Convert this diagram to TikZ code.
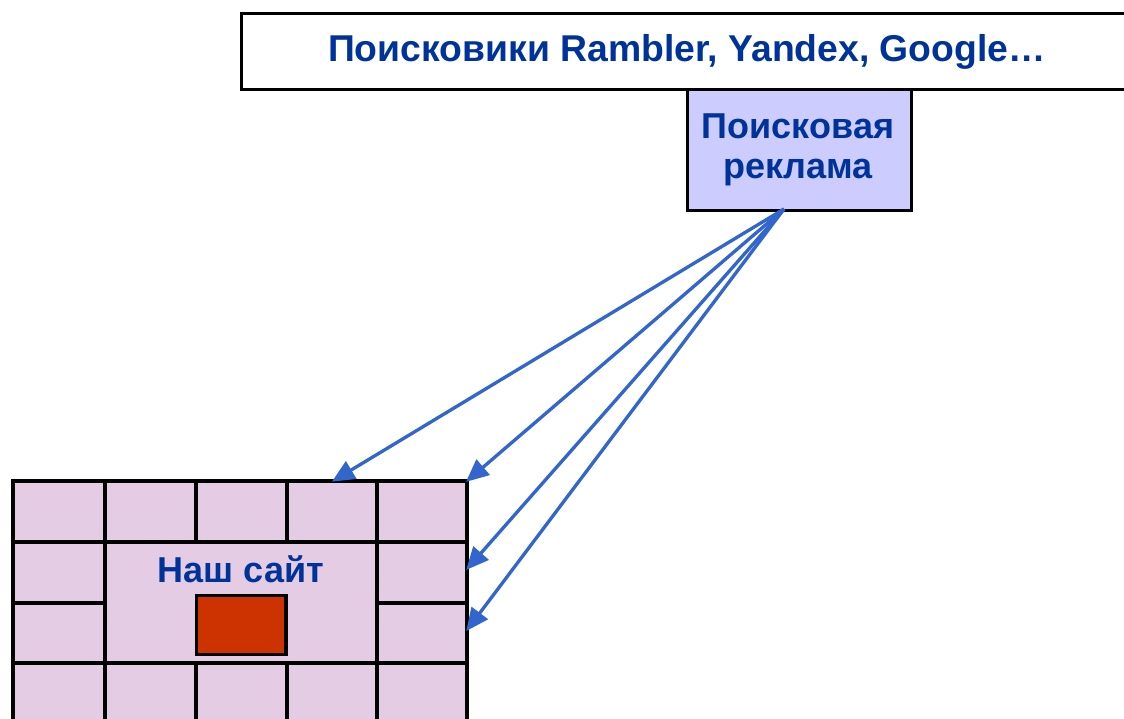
\documentclass[tikz,border=0pt]{standalone}
\usepackage{fontspec}
\setmainfont{Liberation Sans}
\usetikzlibrary{arrows.meta}
\definecolor{txtblue}{HTML}{003399}
\definecolor{arrblue}{HTML}{3366CC}
\definecolor{adfill}{HTML}{CCCCFF}
\definecolor{lilac}{HTML}{E5CCE5}
\definecolor{redbox}{HTML}{CC3300}
\tikzset{
  box/.style={draw=black, line width=2.5pt, inner sep=0pt},
  label/.style={text=txtblue, font=\bfseries\fontsize{28}{32}\selectfont, align=center},
  gridline/.style={draw=black, line width=2.4pt},
  adarrow/.style={draw=arrblue, line width=2.5pt, -{Triangle[length=17pt,width=15pt]}, shorten >=-1pt}
}
\begin{document}
\begin{tikzpicture}[x=0.75pt,y=-0.75pt]
\useasboundingbox (0,0) rectangle (1124,718);
\begin{scope}
\clip (0,0) rectangle (1124,718);
% top box
\node[box, fill=white, minimum width=900pt, minimum height=57pt, anchor=north west] (engines) at (240,12) {};
\node[label] (enginestext) at (687,52) {Поисковики Rambler, Yandex, Google…};
% grid
\fill[lilac] (13,481) rectangle (467,740);
\coordinate (g1) at (333,481);
\coordinate (g2) at (467,481);
\coordinate (g3) at (467,569);
\coordinate (g4) at (467,630);
\draw[gridline] (13,740) -- (13,481) -- (467,481) -- (467,740);
\draw[gridline] (13,542) -- (467,542);
\draw[gridline] (13,663) -- (467,663);
\draw[gridline] (13,603) -- (105,603);
\draw[gridline] (377,603) -- (467,603);
\draw[gridline] (105,481) -- (105,740);
\draw[gridline] (377,481) -- (377,740);
\draw[gridline] (196,481) -- (196,542);
\draw[gridline] (287,481) -- (287,542);
\draw[gridline] (196,663) -- (196,740);
\draw[gridline] (287,663) -- (287,740);
\node[label, font=\bfseries\fontsize{27}{30}\selectfont] (site) at (241,569) {Наш сайт};
\node[box, fill=redbox, minimum width=67pt, minimum height=44pt, anchor=north west] (core) at (195,594) {};
\end{scope}
% ad box
\node[box, fill=adfill, minimum width=168pt, minimum height=90.75pt, anchor=north west] (ad) at (686,88) {};
\node[label, font=\bfseries\fontsize{27}{29.5}\selectfont] (adtext) at (798,150) {Поисковая\\реклама};
\coordinate (src) at (784,209);
\draw[adarrow] (src) -- (g1);
\draw[adarrow] (src) -- (g2);
\draw[adarrow] (src) -- (g3);
\draw[adarrow] (src) -- (g4);
\end{tikzpicture}
\end{document}
